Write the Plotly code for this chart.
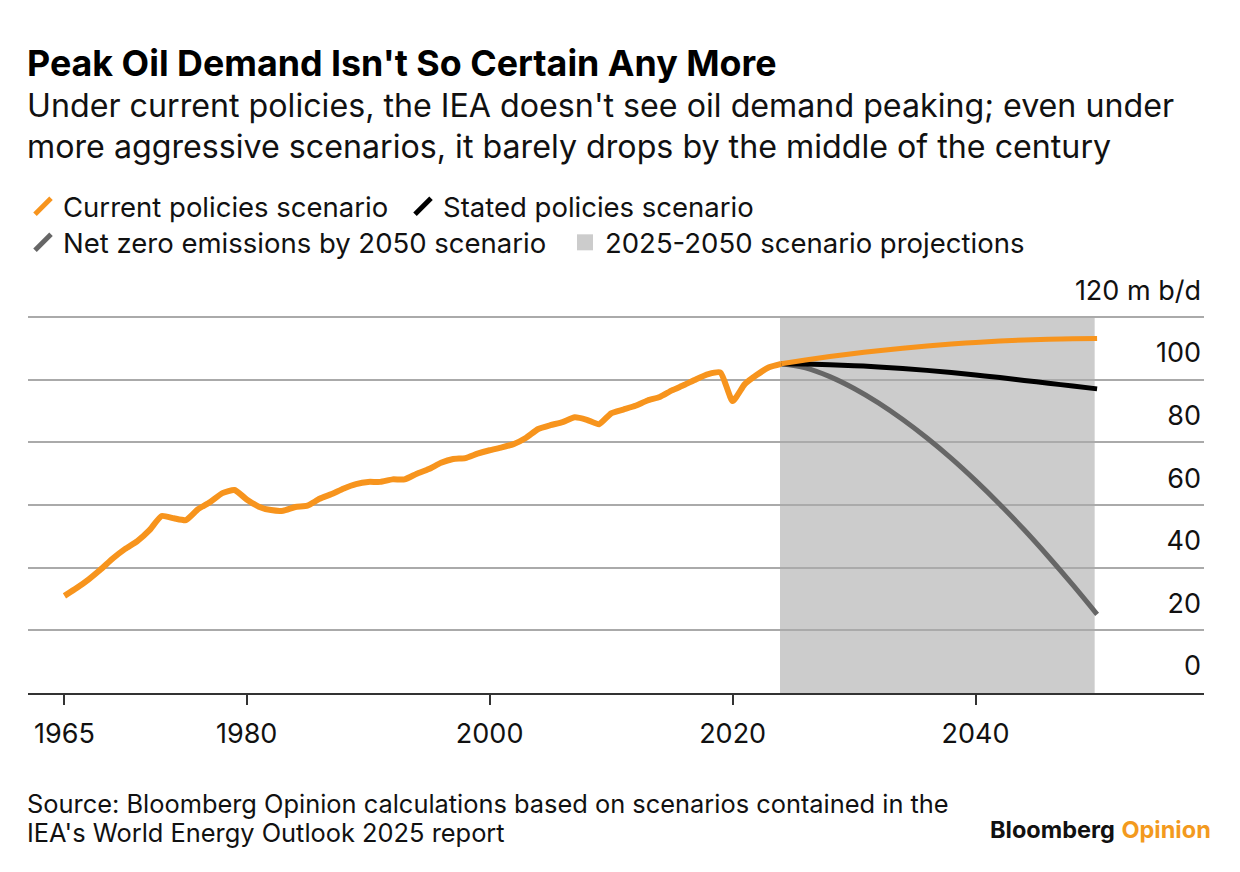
import plotly.graph_objects as go

# historical oil demand, million barrels a day
hist_years = list(range(1965, 2025))
hist_demand = [
    31.0, 33.5, 36.3, 39.5, 43.0, 46.0, 48.5, 52.0, 56.5, 55.8,
    55.2, 58.7, 61.0, 63.8, 64.8, 61.8, 59.5, 58.4, 58.2, 59.4,
    59.8, 62.0, 63.5, 65.3, 66.7, 67.4, 67.4, 68.2, 68.2, 70.0,
    71.5, 73.5, 74.7, 75.0, 76.4, 77.5, 78.4, 79.5, 81.5, 84.3,
    85.5, 86.5, 88.0, 87.2, 85.8, 89.3, 90.5, 91.7, 93.4, 94.5,
    96.6, 98.3, 100.2, 101.8, 102.3, 93.2, 98.6, 101.6, 104.0, 105.1,
]

# scenario projections
proj_years = [2024, 2026, 2028, 2030, 2032, 2034, 2036, 2038, 2040, 2042, 2044, 2046, 2048, 2050]
current_policies = [105.1, 106.3, 107.4, 108.4, 109.3, 110.1, 110.8,
                    111.4, 111.9, 112.35, 112.7, 112.95, 113.1, 113.2]
stated_policies = [105.1, 105.0, 104.8, 104.5, 104.1, 103.6, 103.0,
                   102.3, 101.5, 100.7, 99.8, 98.9, 98.0, 97.1]
net_zero = [105.1, 103.8, 101.0, 97.2, 92.6, 87.3, 81.4,
            74.9, 67.8, 60.2, 52.1, 43.5, 34.5, 25.1]

proj_start, proj_end = 2023.9, 2049.8

x_ticks = [1965, 1980, 2000, 2020, 2040]
y_ticks = [0, 20, 40, 60, 80, 100, 120]
y_labels = ["0", "20", "40", "60", "80", "100", "120 m b/d"]

ORANGE = "#f7941d"
BLACK = "#000000"
GREY = "#666666"
SHADE = "#cccccc"
FONT = "Inter"

# page body adds an 8px offset, so the figure is drawn 8px in
OFF = 8
W, H = 1240 - 2 * OFF, 872 - 2 * OFF
L, R, T, B = 20, 28, 305.6, 171.2


def sy(px):
    # screen row -> paper y
    return (H - B - (px - OFF)) / (H - T - B)


def sx(px):
    return (px - OFF - L) / (W - L - R)


fig = go.Figure()

fig.add_trace(go.Scatter(x=proj_years, y=net_zero, mode="lines", showlegend=False,
                         line=dict(color=GREY, width=5, shape="spline")))
fig.add_trace(go.Scatter(x=proj_years, y=stated_policies, mode="lines", showlegend=False,
                         line=dict(color=BLACK, width=5, shape="spline")))
fig.add_trace(go.Scatter(x=proj_years, y=current_policies, mode="lines", showlegend=False,
                         line=dict(color=ORANGE, width=5, shape="spline")))
fig.add_trace(go.Scatter(x=hist_years, y=hist_demand, mode="lines", showlegend=False,
                         line=dict(color=ORANGE, width=6, shape="spline", smoothing=0.5)))


# legend entries
def legend_entry(name, color, symbol, legend):
    fig.add_trace(go.Scatter(
        x=[None], y=[None], mode="markers", name=name, legend=legend,
        marker=dict(symbol=symbol, size=16, color=color,
                    line=dict(color=color, width=5 if symbol == "line-ne" else 0)),
    ))


legend_entry("Current policies scenario", ORANGE, "line-ne", "legend")
legend_entry("Stated policies scenario", BLACK, "line-ne", "legend")
legend_entry("Net zero emissions by 2050 scenario", GREY, "line-ne", "legend2")
legend_entry("2025-2050 scenario projections", SHADE, "square", "legend2")

fig.add_shape(type="rect", xref="x", yref="y", x0=proj_start, x1=proj_end, y0=0, y1=120,
              fillcolor=SHADE, line_width=0, layer="below")

legend_style = dict(orientation="h", xanchor="left", yanchor="middle",
                    font=dict(family=FONT, size=27.5, color="#111111"),
                    bgcolor="rgba(0,0,0,0)", itemsizing="trace", entrywidthmode="pixels")
fig.update_layout(
    legend=dict(x=sx(23), y=sy(206), entrywidth=335, **legend_style),
    legend2=dict(x=sx(23), y=sy(242), entrywidth=497, **legend_style),
)

annotations = [
    dict(text="<b>Peak Oil Demand Isn't So Certain Any More</b>", x=sx(25), y=sy(62),
         font=dict(size=35.8, color="#000000")),
    dict(text="Under current policies, the IEA doesn't see oil demand peaking; even under",
         x=sx(25), y=sy(105), font=dict(size=32.2, color="#111111")),
    dict(text="more aggressive scenarios, it barely drops by the middle of the century",
         x=sx(25), y=sy(146), font=dict(size=32.2, color="#111111")),
    dict(text="Source: Bloomberg Opinion calculations based on scenarios contained in the",
         x=sx(25), y=sy(803), font=dict(size=25.4, color="#111111")),
    dict(text="IEA's World Energy Outlook 2025 report",
         x=sx(25), y=sy(832), font=dict(size=25.4, color="#111111")),
]
for a in annotations:
    fig.add_annotation(xref="paper", yref="paper", xanchor="left", yanchor="middle",
                       showarrow=False, **a)
fig.add_annotation(xref="paper", yref="paper", x=sx(1213), y=sy(829),
                   xanchor="right", yanchor="middle", showarrow=False,
                   text="<b>Bloomberg</b> <b><span style='color:#f39a1e'>Opinion</span></b>",
                   font=dict(size=23.5, color="#111111"))

fig.update_layout(
    width=W, height=H,
    margin=dict(l=L, r=R, t=T, b=B, pad=0),
    paper_bgcolor="white", plot_bgcolor="white",
    font=dict(family=FONT, color="#111111"),
    xaxis=dict(range=[1962.0, 2058.8], tickvals=x_ticks, ticks="outside", ticklen=10,
               tickwidth=2, tickcolor="#333333", showline=True, linecolor="#333333",
               linewidth=2, showgrid=False, zeroline=False, ticklabelstandoff=6,
               tickfont=dict(size=27, color="#111111")),
    yaxis=dict(range=[0, 121], tickvals=y_ticks, ticktext=y_labels, side="right",
               ticklabelposition="inside", ticklabelshift=-27, ticklabeloverflow="allow",
               ticks="", showgrid=True, gridcolor="#aaaaaa", gridwidth=2,
               zeroline=False, showline=False,
               tickfont=dict(size=27, color="#111111")),
)

fig.write_html("out.html")
